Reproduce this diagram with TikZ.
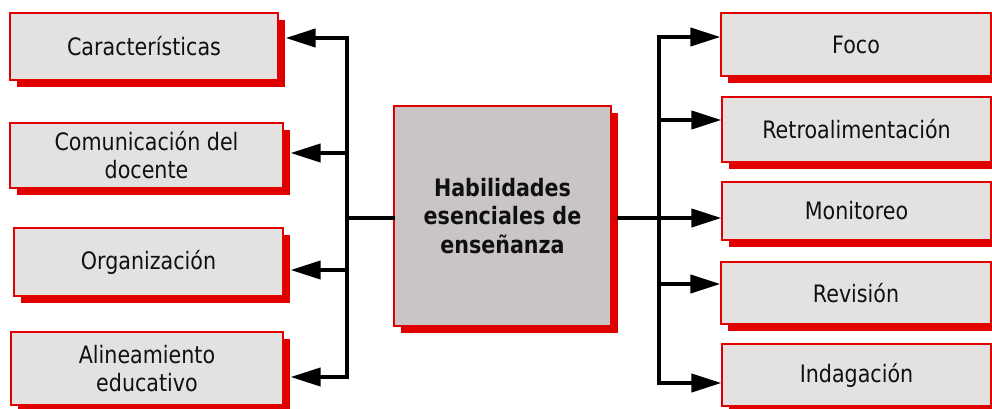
\documentclass[tikz,border=0pt]{standalone}
\usepackage{fontspec}
\setmainfont{DejaVu Sans}[FakeStretch=0.86]
\usetikzlibrary{arrows.meta,shadows}
\definecolor{boxred}{HTML}{E00000}
\definecolor{boxgray}{HTML}{E4E2E1}
\definecolor{midgray}{HTML}{C9C5C4}
\definecolor{txt}{HTML}{101010}
\tikzset{
  box/.style={draw=boxred, line width=1.2pt, fill=boxgray, text=txt, align=center,
    inner sep=0pt, font=\fontsize{24}{28}\selectfont,
    general shadow={fill=boxred, shadow xshift=7pt, shadow yshift=-7pt}},
  centerbox/.style={box, fill=midgray, font=\fontsize{24}{28.5}\selectfont\bfseries},
  bus/.style={line width=4pt, line cap=rect},
  arr/.style={line width=4pt, -{Triangle[length=30pt 0 0,width=18pt 0 0]}},
}
\begin{document}
\begin{tikzpicture}[x=1pt,y=-1pt]
\useasboundingbox (0,0) rectangle (992,409);
\clip (0,0) rectangle (992,409);
% left boxes
\node[box, minimum width=268pt, minimum height=67pt] (a1) at (144,46.5) {Características};
\node[box, minimum width=273pt, minimum height=65pt] (a2) at (146.5,155.5) {Comunicación del\\docente};
\node[box, minimum width=269pt, minimum height=68pt] (a3) at (148.5,262) {Organización};
\node[box, minimum width=272pt, minimum height=73pt] (a4) at (147,368.5) {Alineamiento\\educativo};
% center
\node[centerbox, minimum width=217pt, minimum height=220pt] (c) at (502.5,216) {Habilidades\\esenciales de\\enseñanza};
% right boxes
\node[box, minimum width=270pt, minimum height=63pt] (b1) at (856,44.5) {Foco};
\node[box, minimum width=269pt, minimum height=65pt] (b2) at (856.5,129.5) {Retroalimentación};
\node[box, minimum width=269pt, minimum height=58pt] (b3) at (856.5,211) {Monitoreo};
\node[box, minimum width=270pt, minimum height=62pt] (b4) at (856,293) {Revisión};
\node[box, minimum width=269pt, minimum height=62pt] (b5) at (856.5,375) {Indagación};
% left bus
\coordinate (l1) at (347,38);
\coordinate (l2) at (347,153);
\coordinate (lm) at (347,218);
\coordinate (l3) at (347,270);
\coordinate (l4) at (347,377);
\draw[bus] (l1) -- (l4);
\draw[bus] (lm) -- (lm -| c.west);
\draw[arr] ([xshift=2pt]l1) -- ([xshift=7pt]l1 -| a1.east);
\draw[arr] ([xshift=2pt]l2) -- ([xshift=7pt]l2 -| a2.east);
\draw[arr] ([xshift=2pt]l3) -- ([xshift=7pt]l3 -| a3.east);
\draw[arr] ([xshift=2pt]l4) -- ([xshift=7pt]l4 -| a4.east);
% right bus
\coordinate (r1) at (659,37);
\coordinate (r2) at (659,120);
\coordinate (rm) at (659,218);
\coordinate (r4) at (659,284);
\coordinate (r5) at (659,383);
\draw[bus] (r1) -- (r5);
\draw[bus] ([xshift=7pt]rm -| c.east) -- (rm);
\draw[arr] ([xshift=-2pt]r1) -- (r1 -| b1.west);
\draw[arr] ([xshift=-2pt]r2) -- (r2 -| b2.west);
\draw[arr] ([xshift=-2pt]rm) -- (rm -| b3.west);
\draw[arr] ([xshift=-2pt]r4) -- (r4 -| b4.west);
\draw[arr] ([xshift=-2pt]r5) -- (r5 -| b5.west);
\end{tikzpicture}
\end{document}
